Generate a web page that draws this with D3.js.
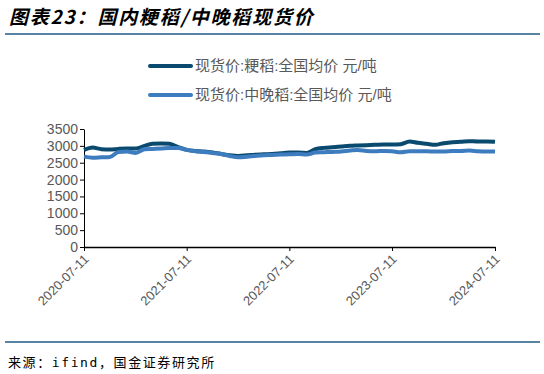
<!DOCTYPE html>
<html>
<head>
<meta charset="utf-8">
<script src="https://cdn.jsdelivr.net/npm/d3@7"></script>
<style>
  body { margin: 0; background: #fff; }
  svg { display: block; }
</style>
</head>
<body>
<svg id="chart" width="544" height="374"></svg>
<script>
// monthly dates, 2020-07-11 .. 2024-07-11
let startDate = new Date(2020, 6, 11)
let dates = d3.range(49).map(i => d3.timeMonth.offset(startDate, i))

let japonica = [2880, 2950, 2900, 2890, 2910, 2920, 2920, 3000, 3060, 3070,
                3060, 2960, 2880, 2850, 2830, 2800, 2760, 2720, 2700, 2720,
                2740, 2750, 2760, 2780, 2800, 2800, 2790, 2900, 2940, 2960,
                2980, 3000, 3010, 3020, 3030, 3040, 3040, 3050, 3130, 3090,
                3060, 3030, 3080, 3110, 3120, 3140, 3130, 3130, 3120]

let lateRice = [2680, 2650, 2660, 2670, 2820, 2830, 2790, 2900, 2910, 2920,
                2940, 2940, 2880, 2840, 2820, 2790, 2760, 2700, 2660, 2680,
                2700, 2720, 2730, 2740, 2750, 2760, 2740, 2800, 2810, 2820,
                2830, 2860, 2880, 2850, 2840, 2850, 2840, 2810, 2840, 2840,
                2840, 2830, 2830, 2850, 2850, 2860, 2840, 2830, 2830]

let seriesNames = ['现货价:粳稻:全国均价 元/吨', '现货价:中晚稻:全国均价 元/吨']
let seriesColors = ['#0b4a6f', '#3d7dbf']
let yTicks = [0, 500, 1000, 1500, 2000, 2500, 3000, 3500]
let xTicks = ['2020-07-11', '2021-07-11', '2022-07-11', '2023-07-11', '2024-07-11']

let svg = d3.select('#chart')
let parse = d3.timeParse('%Y-%m-%d')

let x = d3.scaleTime()
          .domain([parse(xTicks[0]), parse(xTicks[xTicks.length - 1])])
          .range([84, 495])
let y = d3.scaleLinear()
          .domain([0, 3500])
          .range([247, 129])

// title + rules
svg.append('text')
   .attr('x', 9).attr('y', 24)
   .attr('font-family', '"Noto Sans CJK SC", sans-serif')
   .attr('font-size', 19).attr('font-weight', 'bold').attr('font-style', 'italic')
   .attr('letter-spacing', 1.8)
   .attr('fill', '#000')
   .text('图表23：国内粳稻/中晚稻现货价')

svg.append('line').attr('x1', 5).attr('x2', 540).attr('y1', 34).attr('y2', 34)
   .attr('stroke', '#1f5a87').attr('stroke-width', 1.5)
svg.append('line').attr('x1', 5).attr('x2', 540).attr('y1', 342).attr('y2', 342)
   .attr('stroke', '#1f5a87').attr('stroke-width', 1.5)

svg.append('text')
   .attr('x', 8).attr('y', 367)
   .attr('font-family', '"DejaVu Sans Mono", "Noto Sans CJK SC", monospace')
   .attr('font-size', 13).attr('letter-spacing', 1.6).attr('fill', '#000')
   .text('来源：ifind，国金证券研究所')

// legend
seriesNames.forEach((name, i) => {
    let ly = 66 + i * 29
    svg.append('line').attr('x1', 150).attr('x2', 191).attr('y1', ly).attr('y2', ly)
       .attr('stroke', seriesColors[i]).attr('stroke-width', 4).attr('stroke-linecap', 'round')
    svg.append('text').attr('x', 195).attr('y', ly + 5)
       .attr('font-family', '"Liberation Sans", "Noto Sans CJK SC", sans-serif')
       .attr('font-size', 15).attr('fill', '#595959')
       .text(name)
})

// axes
let yAxis = d3.axisLeft(y).tickValues(yTicks).tickSize(4).tickSizeOuter(0)
              .tickFormat(d3.format('d'))
let xAxis = d3.axisBottom(x).tickValues(xTicks.map(parse)).tickSize(4).tickSizeOuter(0)
              .tickFormat(d3.timeFormat('%Y-%m-%d'))

let gy = svg.append('g').attr('transform', 'translate(84,0)').call(yAxis)
gy.selectAll('text').attr('fill', '#595959').attr('font-size', 14)
  .attr('font-family', '"Liberation Sans", sans-serif').attr('x', -6)
gy.selectAll('line, path').attr('stroke', '#000')

let gx = svg.append('g').attr('transform', 'translate(0,247)').call(xAxis)
gx.select('.domain').attr('stroke', '#000').attr('stroke-width', 1.5)
gx.selectAll('line').attr('stroke', '#000')
gx.selectAll('text')
  .attr('fill', '#595959').attr('font-size', 13)
  .attr('font-family', '"Liberation Sans", sans-serif')
  .attr('text-anchor', 'end')
  .attr('dy', 0).attr('y', 0)
  .attr('transform', 'translate(5,13) rotate(-45)')

// lines
let line = d3.line().x((d, i) => x(dates[i])).y(d => y(d)).curve(d3.curveMonotoneX)
;[japonica, lateRice].forEach((vals, i) => {
    svg.append('path').datum(vals)
       .attr('fill', 'none')
       .attr('stroke', seriesColors[i])
       .attr('stroke-width', 4)
       .attr('stroke-linejoin', 'round')
       .attr('d', line)
})
</script>
</body>
</html>
